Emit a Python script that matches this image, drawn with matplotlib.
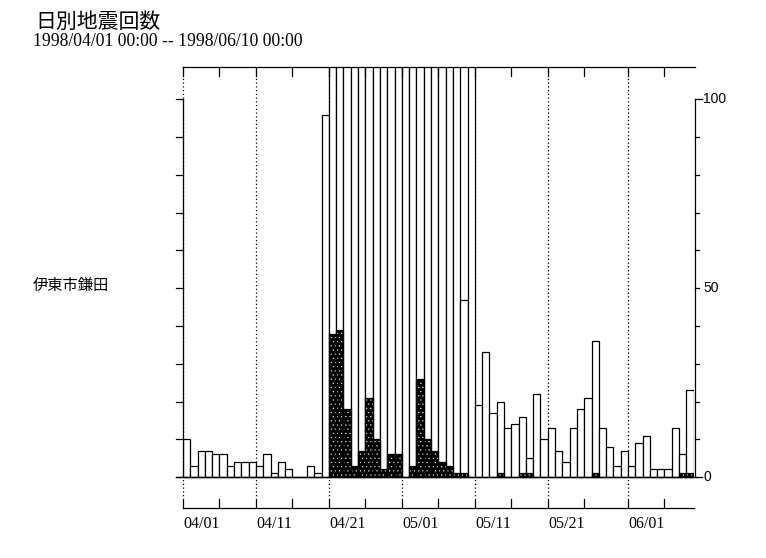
import matplotlib
matplotlib.use("Agg")
import matplotlib.pyplot as plt
import numpy as np
import pandas as pd

# daily counts 1998/04/01 .. 1998/06/09 (white = all events, black = felt)
start = pd.Timestamp("1998-04-01")
total = [10, 3, 7, 7, 6, 6, 3, 4, 4, 4,
         3, 6, 1, 4, 2, 0, 0, 3, 1, 96,
         380, 620, 450, 300, 280, 350, 260, 200, 220, 240,
         180, 250, 400, 330, 260, 210, 170, 150, 47, 130,
         19, 33, 17, 20, 13, 14, 16, 5, 22, 10,
         13, 7, 4, 13, 18, 21, 36, 13, 8, 3,
         7, 3, 9, 11, 2, 2, 2, 13, 6, 23]
felt = [0, 0, 0, 0, 0, 0, 0, 0, 0, 0,
        0, 0, 0, 0, 0, 0, 0, 0, 0, 0,
        38, 39, 18, 3, 7, 21, 10, 2, 6, 6,
        0, 3, 26, 10, 7, 4, 3, 1, 1, 0,
        0, 0, 0, 1, 0, 0, 1, 1, 0, 0,
        0, 0, 0, 0, 0, 0, 1, 0, 0, 0,
        0, 0, 0, 0, 0, 0, 0, 0, 1, 1]
tick_dates = ["04/01", "04/06", "04/11", "04/16", "04/21", "04/26", "05/01",
              "05/06", "05/11", "05/16", "05/21", "05/26", "06/01", "06/06"]
label_dates = ["04/01", "04/11", "04/21", "05/01", "05/11", "05/21", "06/01"]
left_ticks = list(range(0, 101, 10))
right_labels = [0, 50, 100]

serif = "Liberation Serif"
cjk = "Noto Sans CJK JP"


def day_of(md):
    return (pd.Timestamp("1998-" + md.replace("/", "-")) - start).days


n = len(total)
x = np.arange(n)
ymin, ymax = -8.2, 108.6
dw = 7.295  # pixels per day
lw = 0.9

plt.rcParams["hatch.linewidth"] = 0.3

fig = plt.figure(figsize=(7.66, 5.58), dpi=100)
ax = fig.add_axes([183 / 766, 50 / 558, n * dw / 766, (508 - 67) / 558])
ax.set_xlim(0, n)
ax.set_ylim(ymin, ymax)
ax.axis("off")

# dotted date lines
for d in label_dates:
    t = day_of(d)
    ax.plot([t, t], [ymax, -5.3], ls=(0, (1, 2)), lw=lw, color="black", zorder=1, clip_on=False)

# bars
ax.bar(x, total, width=1, align="edge", color="white", edgecolor="black", lw=lw, zorder=2)
ax.bar(x, felt, width=1, align="edge", color="black", edgecolor="white", hatch="....", lw=0, zorder=3)
ax.bar(x, felt, width=1, align="edge", fill=False, edgecolor="black", lw=lw, zorder=4)

xr = (695 - 183) / dw
# top and bottom date axes
ax.plot([0, xr], [ymax, ymax], color="black", lw=lw, clip_on=False, zorder=5)
ax.plot([0, n], [ymin, ymin], color="black", lw=lw, clip_on=False, zorder=5)
for d in tick_dates:
    t = day_of(d)
    ax.plot([t, t], [ymin, ymin + 2.4], color="black", lw=lw, clip_on=False)
    ax.plot([t, t], [ymax, ymax - 2.4], color="black", lw=lw, clip_on=False)
for d in label_dates:
    ax.text(day_of(d) + 0.1, -12.4, d, ha="left", va="center", fontsize=11.5, family=serif)

# left and right count axes
ax.plot([-0.95, xr + 1.0], [0, 0], color="black", lw=lw, clip_on=False, zorder=5)
ax.plot([0, 0], [0, 100], color="black", lw=lw, clip_on=False, zorder=5)
ax.plot([xr, xr], [0, 100], color="black", lw=lw, clip_on=False, zorder=5)
for v in left_ticks:
    ax.plot([-0.95, 0], [v, v], color="black", lw=lw, clip_on=False)
    ax.plot([xr, xr + (0.95 if v == 100 else 0.55)], [v, v], color="black", lw=lw, clip_on=False)
for v in right_labels:
    ax.text(xr + 1.1, v, str(v), ha="left", va="center", fontsize=10, family="Liberation Sans")

fig.text(35 / 766, 1 - 22 / 558, "日別地震回数", ha="left", va="center", fontsize=15, family=cjk)
fig.text(33 / 766, 1 - 42 / 558, "1998/04/01 00:00 -- 1998/06/10 00:00", ha="left", va="center",
         fontsize=12.7, family=serif)
fig.text(33 / 766, 1 - 285 / 558, "伊東市鎌田", ha="left", va="center", fontsize=11, family=cjk)

fig.savefig("out.png", dpi=100)
